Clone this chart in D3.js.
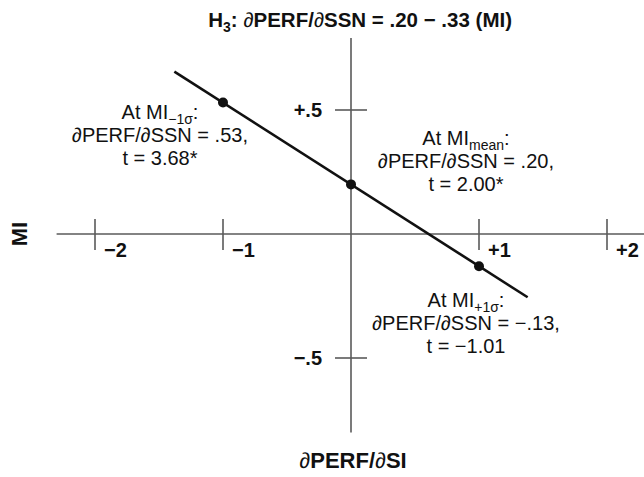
<!DOCTYPE html>
<html>
<head>
<meta charset="utf-8">
<script src="https://cdn.jsdelivr.net/npm/d3@7/dist/d3.min.js"></script>
<style>
  html, body { margin: 0; padding: 0; background: #fff; }
  text { font-family: "Liberation Sans", Arial, Helvetica, sans-serif; }
</style>
</head>
<body>
<svg id="chart" width="644" height="477"></svg>
<script>
// ---- data ----
const xTicks = [-2, -1, 1, 2];
const xTickLabels = ["\u22122", "\u22121", "+1", "+2"];
const yTicks = [0.5, -0.5];
const yTickLabels = ["+.5", "\u2212.5"];
const xAxisExtent = [-2.3, 2.3];
const yAxisExtent = [-0.8, 0.79];
const pointMI = [-1, 0, 1];
const pointSlope = [0.53, 0.20, -0.13];
const lineMI = [-1.38, 1.38];
const lineSlope = [0.655, -0.255];
const annoSub = ["\u22121\u03c3", "mean", "+1\u03c3"];
const annoValue = [".53", ".20", "\u2212.13"];
const annoT = ["3.68*", "2.00*", "\u22121.01"];

const svg = d3.select("#chart");
const x = d3.scaleLinear().domain([-2, 2]).range([95, 607]);
const y = d3.scaleLinear().domain([-0.5, 0.5]).range([358, 110]);
const axisColor = "#5a5a5a";
const ink = "#111";

// axes lines
svg.append("line")
  .attr("x1", x(xAxisExtent[0])).attr("x2", x(xAxisExtent[1]))
  .attr("y1", y(0)).attr("y2", y(0))
  .attr("stroke", axisColor).attr("stroke-width", 1.6);
svg.append("line")
  .attr("x1", x(0)).attr("x2", x(0))
  .attr("y1", y(yAxisExtent[1])).attr("y2", y(yAxisExtent[0]))
  .attr("stroke", axisColor).attr("stroke-width", 1.6);

// x ticks
svg.selectAll(".xt").data(xTicks).enter().append("line")
  .attr("x1", d => x(d)).attr("x2", d => x(d))
  .attr("y1", y(0) - 15).attr("y2", y(0) + 16)
  .attr("stroke", axisColor).attr("stroke-width", 1.6);
svg.selectAll(".xl").data(xTicks).enter().append("text")
  .attr("x", d => x(d) + 9).attr("y", y(0) + 23)
  .attr("font-size", 20).attr("font-weight", "bold").attr("fill", ink)
  .text((d, i) => xTickLabels[i]);

// y ticks
svg.selectAll(".yt").data(yTicks).enter().append("line")
  .attr("x1", x(0) - 16).attr("x2", x(0) + 16)
  .attr("y1", d => y(d)).attr("y2", d => y(d))
  .attr("stroke", axisColor).attr("stroke-width", 1.6);
svg.selectAll(".yl").data(yTicks).enter().append("text")
  .attr("x", x(0) - 29).attr("y", d => y(d) + 7)
  .attr("text-anchor", "end")
  .attr("font-size", 20).attr("font-weight", "bold").attr("fill", ink)
  .text((d, i) => yTickLabels[i]);

// regression line
const lineData = lineMI.map((m, i) => [m, lineSlope[i]]);
svg.append("path")
  .attr("d", d3.line().x(d => x(d[0])).y(d => y(d[1]))(lineData))
  .attr("stroke", ink).attr("stroke-width", 2.6).attr("fill", "none");

// points
svg.selectAll(".pt").data(pointMI).enter().append("circle")
  .attr("cx", d => x(d)).attr("cy", (d, i) => y(pointSlope[i]))
  .attr("r", 5).attr("fill", ink);

// title
const title = svg.append("text")
  .attr("x", 512).attr("y", 27).attr("text-anchor", "end")
  .attr("font-size", 20.5).attr("font-weight", "bold").attr("fill", ink);
title.append("tspan").text("H");
title.append("tspan").attr("font-size", 14).attr("dy", 5).text("3");
title.append("tspan").attr("dy", -5).text(": ");
title.append("tspan").attr("font-weight", "normal").text("\u2202");
title.append("tspan").text("PERF/");
title.append("tspan").attr("font-weight", "normal").text("\u2202");
title.append("tspan").text("SSN = .20 \u2212 .33 (MI)");

// axis titles
const xt = svg.append("text")
  .attr("x", 353).attr("y", 468).attr("text-anchor", "middle")
  .attr("font-size", 22).attr("font-weight", "bold").attr("fill", ink);
xt.append("tspan").attr("font-weight", "normal").text("\u2202");
xt.append("tspan").text("PERF/");
xt.append("tspan").attr("font-weight", "normal").text("\u2202");
xt.append("tspan").text("SI");

svg.append("text")
  .attr("transform", "translate(27," + y(0) + ") rotate(-90)")
  .attr("text-anchor", "middle")
  .attr("font-size", 22).attr("font-weight", "bold").attr("fill", ink)
  .text("MI");

// annotations
const annoX = [160, 466, 466];
const annoY = [119, 145, 307];
const lh = 23;
pointMI.forEach((m, i) => {
  const g = svg.append("g");
  const t1 = g.append("text").attr("x", annoX[i]).attr("y", annoY[i])
    .attr("text-anchor", "middle").attr("font-size", 20).attr("fill", ink);
  t1.append("tspan").text("At MI");
  t1.append("tspan").attr("font-size", 14).attr("dy", 5).text(annoSub[i]);
  t1.append("tspan").attr("dy", -5).text(":");
  g.append("text").attr("x", annoX[i]).attr("y", annoY[i] + lh)
    .attr("text-anchor", "middle").attr("font-size", 20).attr("fill", ink)
    .text("\u2202PERF/\u2202SSN = " + annoValue[i] + ",");
  g.append("text").attr("x", annoX[i]).attr("y", annoY[i] + 2 * lh)
    .attr("text-anchor", "middle").attr("font-size", 20).attr("fill", ink)
    .text("t = " + annoT[i]);
});
</script>
</body>
</html>
